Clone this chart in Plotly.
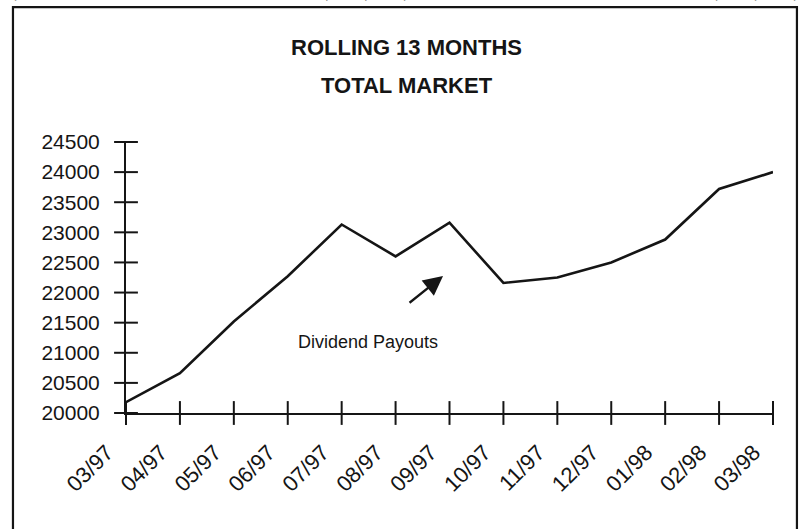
import plotly.graph_objects as go

months = ["03/97", "04/97", "05/97", "06/97", "07/97", "08/97", "09/97",
          "10/97", "11/97", "12/97", "01/98", "02/98", "03/98"]
values = [20180, 20660, 21520, 22270, 23130, 22600, 23160,
          22160, 22250, 22500, 22880, 23720, 24000]
y_ticks = [20000, 20500, 21000, 21500, 22000, 22500, 23000, 23500, 24000, 24500]
y_tick_labels = [str(v) for v in y_ticks]
title_lines = ["ROLLING 13 MONTHS", "TOTAL MARKET"]
note_text = "Dividend Payouts"
header_texts = ["0,000", "25,854,000,000", "6,082,705,000"]

FONT = "Liberation Sans, Arial, Helvetica, sans-serif"
INK = "#151515"
idx = list(range(len(months)))
y0 = y_ticks[0]

fig = go.Figure()
fig.add_trace(go.Scatter(x=idx, y=values, mode="lines",
                         line=dict(color=INK, width=2.6), showlegend=False,
                         hoverinfo="skip"))
# crossing tick marks on the axes, placed at the tick values
fig.add_trace(go.Scatter(x=idx, y=[y0] * len(idx), mode="markers", cliponaxis=False,
                         marker=dict(symbol="line-ns-open", size=17, color=INK,
                                     line=dict(color=INK, width=2)),
                         showlegend=False, hoverinfo="skip"))
fig.add_trace(go.Scatter(x=[0] * len(y_ticks), y=y_ticks, mode="markers", cliponaxis=False,
                         marker=dict(symbol="line-ew-open", size=17, color=INK,
                                     line=dict(color=INK, width=2)),
                         showlegend=False, hoverinfo="skip"))

fig.update_layout(
    width=801, height=529,
    margin=dict(l=126, r=28, t=142, b=116),
    paper_bgcolor="white", plot_bgcolor="white",
    font=dict(family=FONT, color=INK),
    xaxis=dict(range=[0, 12], tickmode="array", tickvals=idx, ticktext=months,
               showgrid=False, zeroline=False, showline=True, linecolor=INK, linewidth=2,
               ticks="", tickangle=-45, tickfont=dict(size=22, family=FONT, color=INK),
               ticklabelshift=-19, ticklabelstandoff=16),
    yaxis=dict(range=[20000, 24500], tickmode="array", tickvals=y_ticks,
               ticktext=y_tick_labels,
               showgrid=False, zeroline=False, showline=True, linecolor=INK, linewidth=2,
               ticks="", ticklabelstandoff=20,
               tickfont=dict(size=21, family=FONT, color=INK)),
)

# frame around the chart (scanned page box)
fig.add_shape(type="rect", xref="paper", yref="paper",
              x0=-0.1747, x1=1.037, y0=-0.6, y1=1.498,
              line=dict(color=INK, width=2.2), fillcolor="rgba(0,0,0,0)")

# title lines
fig.add_annotation(text="<b>" + title_lines[0] + "</b>", xref="paper", yref="paper",
                   x=0.434, y=1.349, showarrow=False,
                   font=dict(size=22, family=FONT, color=INK),
                   xanchor="center", yanchor="middle")
fig.add_annotation(text="<b>" + title_lines[1] + "</b>", xref="paper", yref="paper",
                   x=0.434, y=1.2085, showarrow=False,
                   font=dict(size=22, family=FONT, color=INK),
                   xanchor="center", yanchor="middle")

# note + arrow
fig.add_annotation(text=note_text, x=4.48, y=21180, xref="x", yref="y",
                   showarrow=False, font=dict(size=18, family=FONT, color=INK))
fig.add_annotation(text="", x=5.88, y=22276, xref="x", yref="y",
                   ax=-35, ay=28, showarrow=True, arrowhead=2, arrowsize=1.7,
                   arrowwidth=2.3, arrowcolor=INK)

# clipped header numbers at the very top of the scan
for txt, xp in zip(header_texts, [-0.195, 0.38, 0.99]):
    fig.add_annotation(text=txt, xref="paper", yref="paper", x=xp, y=1.508,
                       showarrow=False, xanchor="left" if xp < 0 else "center",
                       yanchor="bottom", font=dict(size=20, family=FONT, color=INK))

fig.write_html("out.html", config={"displayModeBar": False},
               post_script="document.body.style.margin='0';document.body.style.overflow='hidden';")
